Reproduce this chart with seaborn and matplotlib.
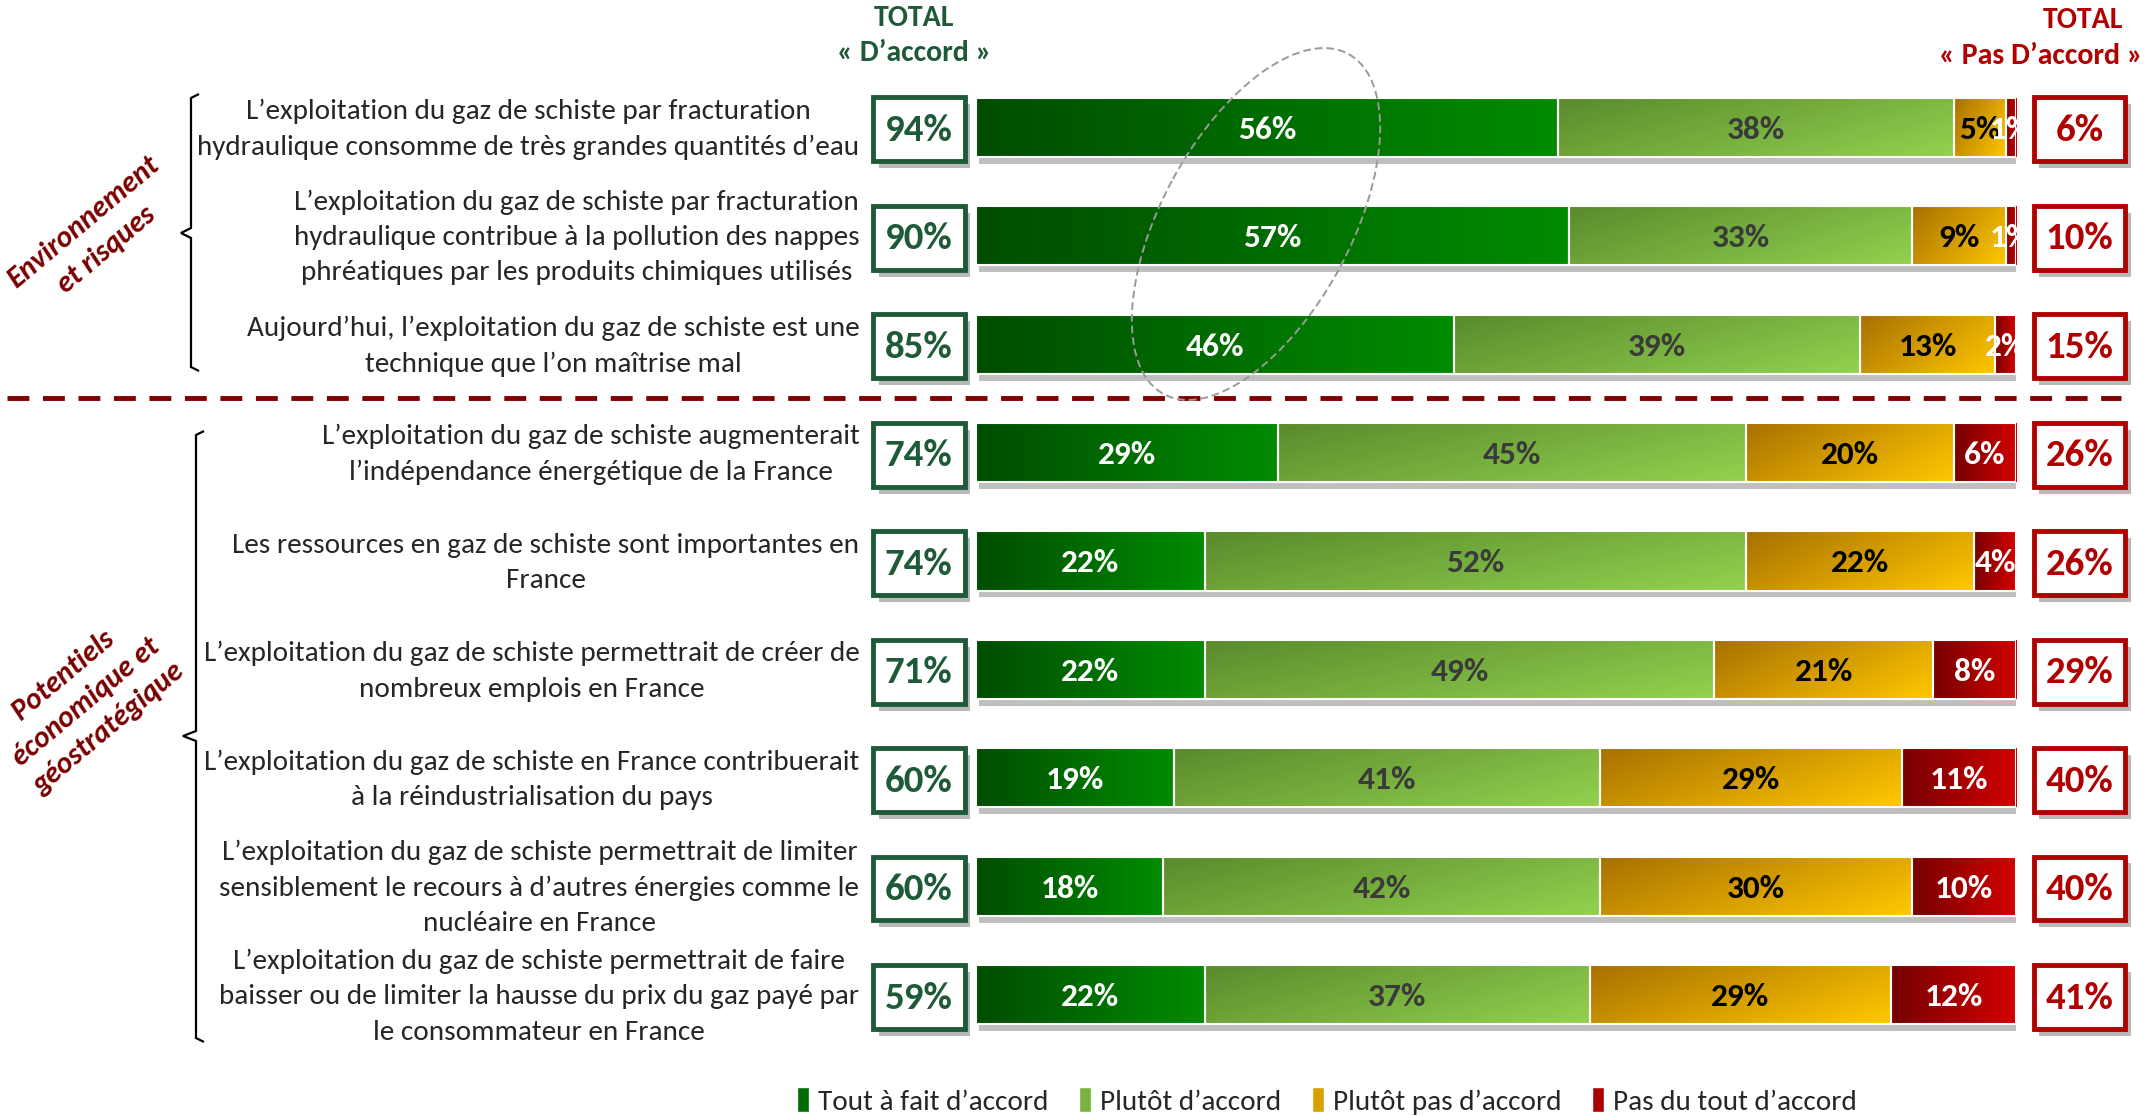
import numpy as np
import pandas as pd
import matplotlib
matplotlib.use("Agg")
import matplotlib.pyplot as plt
import matplotlib.patches as mpatches
import matplotlib.patheffects as pe
import matplotlib.transforms as mtransforms
from matplotlib.path import Path
from matplotlib.colors import LinearSegmentedColormap
import seaborn as sns

# ==== données ====
statements = [
    "L’exploitation du gaz de schiste par fracturation\nhydraulique consomme de très grandes quantités d’eau",
    "L’exploitation du gaz de schiste par fracturation\nhydraulique contribue à la pollution des nappes\nphréatiques par les produits chimiques utilisés",
    "Aujourd’hui, l’exploitation du gaz de schiste est une\ntechnique que l’on maîtrise mal",
    "L’exploitation du gaz de schiste augmenterait\nl’indépendance énergétique de la France",
    "Les ressources en gaz de schiste sont importantes en\nFrance",
    "L’exploitation du gaz de schiste permettrait de créer de\nnombreux emplois en France",
    "L’exploitation du gaz de schiste en France contribuerait\nà la réindustrialisation du pays",
    "L’exploitation du gaz de schiste permettrait de limiter\nsensiblement le recours à d’autres énergies comme le\nnucléaire en France",
    "L’exploitation du gaz de schiste permettrait de faire\nbaisser ou de limiter la hausse du prix du gaz payé par\nle consommateur en France",
]
tout_a_fait = [56, 57, 46, 29, 22, 22, 19, 18, 22]
plutot = [38, 33, 39, 45, 52, 49, 41, 42, 37]
plutot_pas = [5, 9, 13, 20, 22, 21, 29, 30, 29]
pas_du_tout = [1, 1, 2, 6, 4, 8, 11, 10, 12]
total_accord = [94, 90, 85, 74, 74, 71, 60, 60, 59]
total_pas_accord = [6, 10, 15, 26, 26, 29, 40, 40, 41]
series_names = ["Tout à fait d’accord", "Plutôt d’accord",
                "Plutôt pas d’accord", "Pas du tout d’accord"]
groups = ["Environnement\net risques", "Potentiels\néconomique et\ngéostratégique"]

# ==== style ====
flat_colors = ["#006b00", "#78b240", "#dba000", "#a80000"]
grad_colors = [("#004d00", "#008c00", 0.0),
               ("#5a8a2c", "#92d24f", 0.35),
               ("#a87000", "#ffc800", 0.35),
               ("#760000", "#d20000", 0.0)]
label_colors = ["white", "#3a3a3a", "black", "white"]
green_dark = "#1e5a38"
red_dark = "#b00000"
group_color = "#7a0000"

sns.set_theme(style="white")
plt.rcParams["font.family"] = ["Carlito", "IBM Plex Sans Condensed", "DejaVu Sans"]

W, H = 2146, 1116
fig = plt.figure(figsize=(W / 100, H / 100), dpi=100)
ax = fig.add_axes([976 / W, 67 / H, 1040 / W, 976 / H])

df = pd.DataFrame({"statement": statements})
series = [tout_a_fait, plutot, plutot_pas, pas_du_tout]
lefts = np.zeros(len(statements))
containers = []
for name, vals, col in zip(series_names, series, flat_colors):
    df[name] = vals
    sns.barplot(data=df, x=name, y="statement", orient="h", color=col,
                saturation=1, width=0.545, errorbar=None, left=lefts,
                edgecolor="white", linewidth=1.5, ax=ax)
    containers.append(ax.containers[-1])
    lefts = lefts + np.array(vals)

# dégradés + ombres
gx, gy = np.meshgrid(np.linspace(0, 1, 128), np.linspace(0, 1, 32))
for cont, (c0, c1, diag) in zip(containers, grad_colors):
    cmap = LinearSegmentedColormap.from_list("g", [c0, c1])
    t = (1 - diag) * gx + diag * gy
    for p in cont.patches:
        p.set_path_effects([pe.SimplePatchShadow(offset=(2, -5), shadow_rgbFace="0.45", alpha=0.45),
                            pe.Normal()])
        x0, y0, w, h = p.get_x(), p.get_y(), p.get_width(), p.get_height()
        im = ax.imshow(t, cmap=cmap, vmin=0, vmax=1, extent=[x0, x0 + w, y0 + h, y0],
                       aspect="auto", interpolation="bilinear", zorder=2.5)
        im.set_clip_path(p)
        ax.add_patch(mpatches.Rectangle((x0, y0), w, h, fill=False, ec="white",
                                        lw=1.5, zorder=2.7))

for cont, vals, lc in zip(containers, series, label_colors):
    txts = ax.bar_label(cont, labels=[f"{v}%" for v in vals], label_type="center",
                        color=lc, fontsize=24, fontweight="bold", zorder=4)
    for t in txts:
        t.set_va("center_baseline")

ax.set_xlim(0, 100)
ax.set_ylim(len(statements) - 0.5, -0.5)
ax.set_xlabel("")
ax.set_ylabel("")
ax.set_xticks([])
# libellés légèrement remontés par rapport au centre des barres
ax.set_yticks(np.arange(len(statements)) - 0.055, labels=statements)
ax.tick_params(axis="y", length=0, pad=84, labelsize=21)
for t in ax.get_yticklabels():
    t.set_multialignment("center")
    t.set_linespacing(1.52)
sns.despine(ax=ax, left=True, bottom=True)

# encadrés des totaux
for i, (a, d) in enumerate(zip(total_accord, total_pas_accord)):
    for xc, val, col in [(-5.5, a, green_dark), (106.1, d, red_dark)]:
        box = mpatches.Rectangle((xc - 4.4, i + 0.02 - 0.295), 8.8, 0.59, fc="white",
                                 ec=col, lw=3.5, clip_on=False, zorder=5)
        box.set_path_effects([pe.SimplePatchShadow(offset=(4, -5), shadow_rgbFace="0.45", alpha=0.5),
                              pe.Normal()])
        ax.add_patch(box)
        ax.text(xc, i + 0.03, f"{val}%", ha="center", va="center", color=col,
                fontsize=28, fontweight="bold", clip_on=False, zorder=6)

# séparateur
trans = mtransforms.blended_transform_factory(fig.transFigure, ax.transData)
ax.plot([7 / W, 2121 / W], [2.5, 2.5], transform=trans, color="#7f0000", lw=3.5,
        ls=(0, (4.5, 2.8)), clip_on=False, zorder=6)

# calque de superposition (coordonnées pixels)
ov = fig.add_axes([0, 0, 1, 1], zorder=10)
ov.set_xlim(0, W)
ov.set_ylim(H, 0)
ov.axis("off")

ov.text(914, 18, "TOTAL", ha="center", va="center", color=green_dark,
        fontsize=21.5, fontweight="bold")
ov.text(914, 53, "« D’accord »", ha="center", va="center", color=green_dark,
        fontsize=21.5, fontweight="bold")
ov.text(2083, 20, "TOTAL", ha="center", va="center", color=red_dark,
        fontsize=21.5, fontweight="bold")
ov.text(2143, 56, "« Pas D’accord »", ha="right", va="center", color=red_dark,
        fontsize=21.5, fontweight="bold")

ov.text(95, 236, groups[0], ha="center", va="center", rotation=40, color=group_color,
        fontsize=21.5, fontweight="bold", style="italic", linespacing=1.43,
        rotation_mode="anchor")
ov.text(86, 702, groups[1], ha="center", va="center", rotation=40, color=group_color,
        fontsize=21.5, fontweight="bold", style="italic", linespacing=1.43,
        rotation_mode="anchor")

# accolades
for (xv, y0, y1, ym, xt) in [(191, 94, 371, 233, 181), (196, 431, 1042, 736, 183)]:
    verts = [(xv + 8, y0), (xv, y0 + 4), (xv, ym - 5), (xt, ym), (xv, ym + 5),
             (xv, y1 - 4), (xv + 8, y1)]
    ov.add_patch(mpatches.PathPatch(Path(verts), fill=False, ec="black", lw=1.6))

# ellipse pointillée
ov.add_patch(mpatches.Ellipse((1256, 224), 387, 189, angle=-61.5, fill=False,
                              ec="#9a9a9a", lw=1.4, ls=(0, (4, 2))))

# légende
handles = [mpatches.Patch(fc=c, ec="white") for c in flat_colors]
fig.legend(handles, series_names, loc="center", bbox_to_anchor=(1327 / W, 1 - 1101 / H),
           ncol=4, frameon=False, fontsize=21, handlelength=0.42, handleheight=0.9,
           handletextpad=0.3, columnspacing=1.05)

fig.savefig("out.png", dpi=100)
